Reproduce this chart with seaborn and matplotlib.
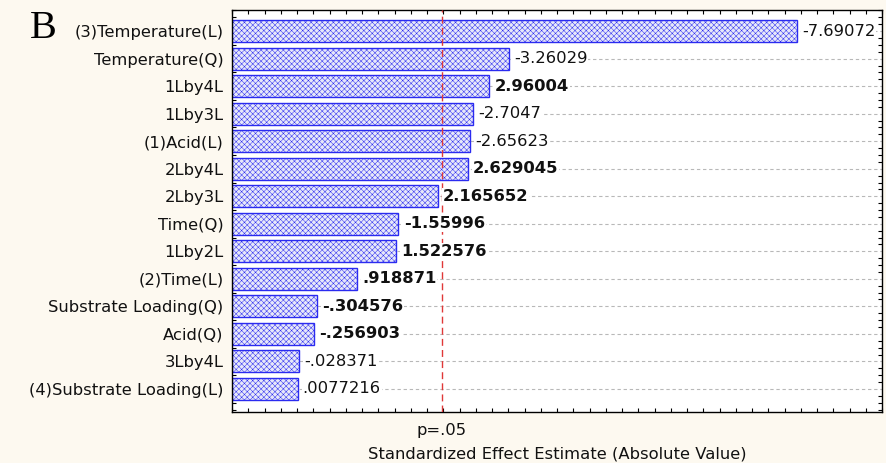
import matplotlib
matplotlib.use("Agg")
import matplotlib.pyplot as plt
from matplotlib.ticker import MultipleLocator
import numpy as np
import pandas as pd
import seaborn as sns

# Pareto chart of standardized effects
terms = [
    "(3)Temperature(L)", "Temperature(Q)", "1Lby4L", "1Lby3L", "(1)Acid(L)",
    "2Lby4L", "2Lby3L", "Time(Q)", "1Lby2L", "(2)Time(L)",
    "Substrate Loading(Q)", "Acid(Q)", "3Lby4L", "(4)Substrate Loading(L)",
]
effects = [
    -7.69072, -3.26029, 2.96004, -2.7047, -2.65623,
    2.629045, 2.165652, -1.55996, 1.522576, .918871,
    -.304576, -.256903, -.028371, .0077216,
]
effect_labels = [
    "-7.69072", "-3.26029", "2.96004", "-2.7047", "-2.65623",
    "2.629045", "2.165652", "-1.55996", "1.522576", ".918871",
    "-.304576", "-.256903", "-.028371", ".0077216",
]
label_weights = [
    "normal", "normal", "bold", "normal", "normal",
    "bold", "bold", "bold", "bold", "bold",
    "bold", "bold", "normal", "normal",
]
p_critical = 2.23
x_min, x_max = -1.0, 9.0

df = pd.DataFrame({"term": terms, "effect": effects})
df["abs_effect"] = df["effect"].abs()
# bars rise from the left edge of the scale
df["span"] = df["abs_effect"] - x_min

sns.set_theme(style="white")
plt.rcParams["font.family"] = ["DejaVu Sans"]
plt.rcParams["hatch.linewidth"] = 0.35
plt.rcParams["hatch.color"] = "#3a3af2"

FS = 11.8

fig = plt.figure(figsize=(8.87, 4.63), dpi=100, facecolor="#fdf9f0")
ax = fig.add_axes([0.2616, 0.110, 0.7328, 0.868])
ax.set_facecolor("white")

# dashed row guides
for i in range(len(terms)):
    ax.axhline(i, color="#b8b8b8", lw=0.8, ls=(0, (3, 2.5)), zorder=0)

sns.barplot(data=df, x="span", y="term", orient="h", ax=ax, left=x_min,
            width=0.8, color="#e4e5fc", edgecolor="#2b2bf0", linewidth=1.0,
            hatch="xxxxxx", zorder=2)

for i, (v, txt, w) in enumerate(zip(df["abs_effect"], effect_labels, label_weights)):
    ax.text(v + 0.08, i, txt, va="center", ha="left", fontsize=FS,
            fontweight=w, color="#111111", zorder=4,
            bbox=dict(facecolor="white", edgecolor="none", pad=0.6))

ax.axvline(p_critical, color="#e03838", lw=1.0, ls=(0, (5, 3)), zorder=3)

ax.set_xlim(x_min, x_max)
ax.set_ylim(len(terms) - 1 + 0.84, -0.76)

ax.xaxis.set_major_locator(MultipleLocator(0.25))
ax.set_xticklabels([])
ax.yaxis.set_minor_locator(MultipleLocator(0.25))
ax.tick_params(axis="x", which="major", direction="in", length=3, width=0.8,
               top=True, bottom=True, color="black")
ax.tick_params(axis="y", which="major", length=0, labelsize=FS, pad=6,
               labelcolor="#111111")
ax.tick_params(axis="y", which="minor", direction="in", length=3, width=0.8,
               left=True, right=True, color="black")

for s in ax.spines.values():
    s.set_visible(True)
    s.set_color("black")
    s.set_linewidth(1.0)

ax.set_ylabel("")
ax.set_xlabel("Standardized Effect Estimate (Absolute Value)", fontsize=FS,
              labelpad=21.5, color="#111111")
ax.text(p_critical, -0.028, "p=.05", transform=ax.get_xaxis_transform(),
        ha="center", va="top", fontsize=FS, color="#111111")

fig.text(0.034, 0.938, "B", family="Liberation Serif", fontsize=29,
         ha="left", va="center", color="black")

fig.savefig("out.png", dpi=100, facecolor=fig.get_facecolor())
